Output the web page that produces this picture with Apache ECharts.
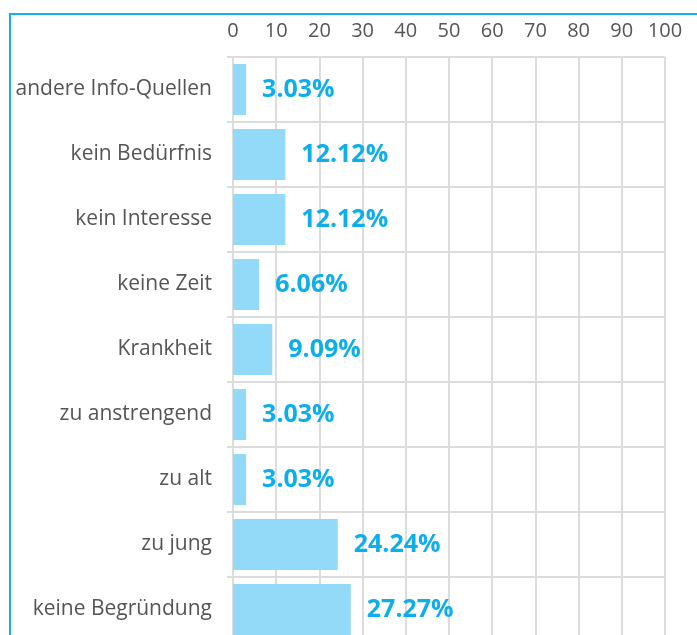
<!DOCTYPE html>
<html>
<head>
<meta charset="utf-8">
<script src="https://cdn.jsdelivr.net/npm/echarts@6/dist/echarts.min.js"></script>
<style>
  body { margin: 0; background: #fff; }
  #chart { width: 697px; height: 635px; }
</style>
</head>
<body>
<div id="chart"></div>
<script>
  var categories = ['andere Info-Quellen', 'kein Bedürfnis', 'kein Interesse', 'keine Zeit',
    'Krankheit', 'zu anstrengend', 'zu alt', 'zu jung', 'keine Begründung'];
  var values = [3.03, 12.12, 12.12, 6.06, 9.09, 3.03, 3.03, 24.24, 27.27];
  var ticks = [0, 10, 20, 30, 40, 50, 60, 70, 80, 90, 100];

  var myChart = echarts.init(document.getElementById('chart'));
  var option = {
    animation: false,
    graphic: [{
      // blauer Rahmen links und oben
      type: 'polyline',
      shape: { points: [[10, 640], [10, 14], [700, 14]] },
      style: { stroke: '#17aee9', lineWidth: 2, fill: null }
    }],
    grid: {
      left: 233,
      top: 57,
      width: 432,
      height: 585,
      outerBoundsMode: 'none'
    },
    xAxis: {
      type: 'value',
      position: 'top',
      min: ticks[0],
      max: ticks[ticks.length - 1],
      interval: 10,
      axisLine: { show: false },
      axisTick: { show: false },
      axisLabel: {
        margin: 16,
        color: '#555',
        fontSize: 20,
        fontFamily: 'Open Sans'
      },
      splitLine: {
        lineStyle: { color: '#dcdcdc', width: 2 }
      }
    },
    yAxis: {
      type: 'category',
      inverse: true,
      data: categories,
      axisLine: { show: false },
      axisTick: {
        show: true,
        length: 6,
        lineStyle: { color: '#dcdcdc', width: 2 }
      },
      axisLabel: {
        margin: 21,
        color: '#555',
        fontSize: 21,
        fontFamily: 'Open Sans'
      },
      splitLine: {
        show: true,
        lineStyle: { color: '#dcdcdc', width: 2 }
      }
    },
    series: [{
      type: 'bar',
      data: values,
      barWidth: 51,
      itemStyle: { color: '#92daf7' },
      label: {
        show: true,
        position: 'right',
        distance: 16,
        formatter: function (p) { return p.value.toFixed(2) + '%'; },
        color: '#0eaeea',
        fontSize: 25,
        fontWeight: 'bold',
        fontFamily: 'Open Sans'
      }
    }]
  };
  myChart.setOption(option);
</script>
</body>
</html>
